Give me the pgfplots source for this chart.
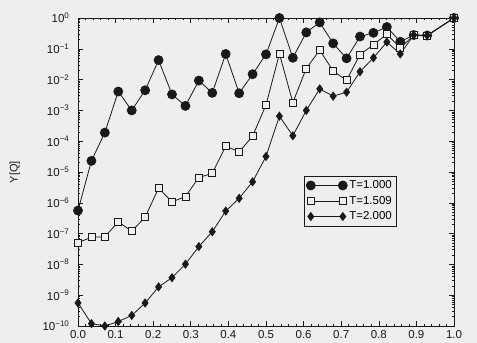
\documentclass[border=0pt]{standalone}
\usepackage{fontspec}
\setmainfont{Liberation Sans}
\usepackage{pgfplots}
\pgfplotsset{compat=1.18}
\definecolor{bg}{RGB}{238,238,238}
\definecolor{ink}{RGB}{25,25,25}

\begin{document}
\begin{tikzpicture}
\fill[bg] (-78pt,-17pt) rectangle (399pt,326pt);
\begin{axis}[
  at={(0pt,0pt)}, anchor=south west,
  scale only axis, width=376pt, height=308pt,
  ymode=log, xmin=0, xmax=1, ymin=1e-10, ymax=1,
  clip=false,
  axis line style={line width=0.8pt, ink},
  tick style={line width=0.6pt, ink},
  major tick length=5pt, minor tick length=2.5pt,
  xtick={0,0.1,0.2,0.3,0.4,0.5,0.6,0.7,0.8,0.9,1.0},
  minor x tick num=4,
  xticklabel style={yshift=-1pt, /pgf/number format/.cd, fixed, fixed zerofill, precision=1, assume math mode=true},
  ytick={1e-10,1e-9,1e-8,1e-7,1e-6,1e-5,1e-4,1e-3,1e-2,1e-1,1},
  yticklabels={10\textsuperscript{−10},10\textsuperscript{−9},10\textsuperscript{−8},10\textsuperscript{−7},10\textsuperscript{−6},10\textsuperscript{−5},10\textsuperscript{−4},10\textsuperscript{−3},10\textsuperscript{−2},10\textsuperscript{−1},10\textsuperscript{0}},
  yticklabel style={xshift=-5pt},
  tick label style={font=\fontsize{11.5}{13}\selectfont, ink},
  ylabel={Y[Q]},
  ylabel style={at={(rel axis cs:-0.168,0.5)}, anchor=center, font=\fontsize{11}{13}\selectfont, ink},
  legend style={at={(rel axis cs:0.60,0.487)}, anchor=north west, draw=ink, fill=bg,
    font=\fontsize{11.5}{13}\selectfont, inner sep=2.5pt, row sep=2pt},
  legend cell align=left,
  legend image code/.code={\draw[#1] plot coordinates {(0pt,0pt) (32pt,0pt)};},
]
\addplot[ink, line width=0.8pt, mark=*, mark size=4.5pt] coordinates {
(0,5.6e-7) (0.0357,2.3e-5) (0.0714,1.9e-4) (0.1071,4.1e-3) (0.1429,1.0e-3)
(0.1786,4.5e-3) (0.2143,4.3e-2) (0.25,3.3e-3) (0.2857,1.4e-3) (0.3214,9.3e-3)
(0.3571,3.7e-3) (0.3929,6.8e-2) (0.4286,3.6e-3) (0.4643,1.5e-2) (0.5,6.6e-2)
(0.5357,1.0) (0.5714,5.1e-2) (0.6071,0.34) (0.6429,0.72) (0.6786,0.15)
(0.7143,4.9e-2) (0.75,0.25) (0.7857,0.33) (0.8214,0.51) (0.8571,0.17)
(0.8929,0.28) (0.9286,0.27) (1.0,1.0)
};
\addlegendentry{T=1.000}
\addplot[ink, line width=0.8pt, mark=square*, mark options={fill=bg}, mark size=3.5pt] coordinates {
(0,5.1e-8) (0.0357,7.6e-8) (0.0714,7.9e-8) (0.1071,2.4e-7) (0.1429,1.2e-7)
(0.1786,3.4e-7) (0.2143,3.0e-6) (0.25,1.07e-6) (0.2857,1.6e-6) (0.3214,6.6e-6)
(0.3571,9.1e-6) (0.3929,6.9e-5) (0.4286,4.5e-5) (0.4643,1.45e-4) (0.5,1.5e-3)
(0.5357,6.9e-2) (0.5714,1.8e-3) (0.6071,2.3e-2) (0.6429,9.1e-2) (0.6786,1.9e-2)
(0.7143,9.5e-3) (0.75,6.5e-2) (0.7857,0.135) (0.8214,0.30) (0.8571,0.105)
(0.8929,0.28) (0.9286,0.27) (1.0,1.0)
};
\addlegendentry{T=1.509}
\addplot[ink, line width=0.8pt, mark=diamond*, mark size=4pt] coordinates {
(0,5.6e-10) (0.0357,1.2e-10) (0.0714,1.0e-10) (0.1071,1.4e-10) (0.1429,2.2e-10)
(0.1786,5.6e-10) (0.2143,1.86e-9) (0.25,3.7e-9) (0.2857,1.02e-8) (0.3214,3.8e-8)
(0.3571,1.15e-7) (0.3929,5.4e-7) (0.4286,1.4e-6) (0.4643,4.8e-6) (0.5,3.2e-5)
(0.5357,6.5e-4) (0.5714,1.5e-4) (0.6071,1.0e-3) (0.6429,5.0e-3) (0.6786,2.9e-3)
(0.7143,3.9e-3) (0.75,1.8e-2) (0.7857,5.1e-2) (0.8214,0.166) (0.8571,6.8e-2)
(0.8929,0.28) (0.9286,0.27) (1.0,1.0)
};
\addlegendentry{T=2.000}
\end{axis}
\end{tikzpicture}
\end{document}
